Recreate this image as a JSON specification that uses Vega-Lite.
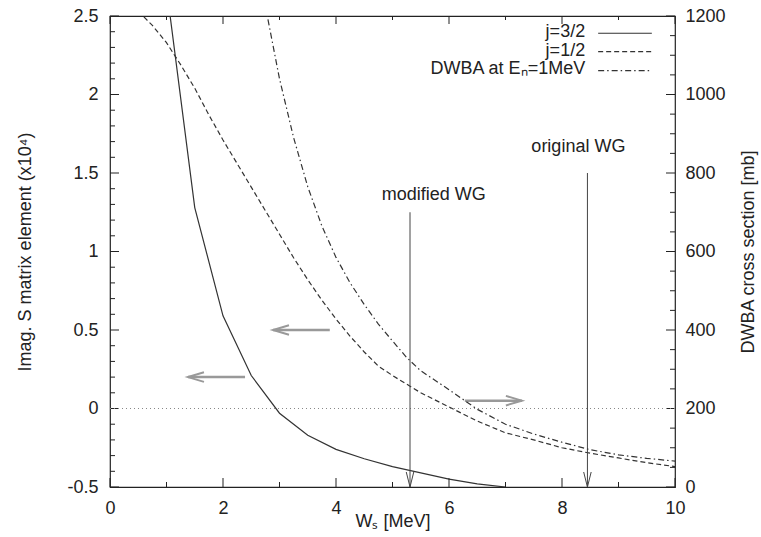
{
  "$schema": "https://vega.github.io/schema/vega-lite/v6.json",
  "width": 565,
  "height": 471,
  "autosize": "none",
  "padding": {"left": 110, "top": 16, "right": 86, "bottom": 50},
  "background": "white",
  "config": {
    "view": {"stroke": "#222", "strokeWidth": 1.2},
    "font": "Liberation Sans",
    "text": {"font": "Liberation Sans", "fontSize": 18, "color": "#222"},
    "tick": {"thickness": 1, "color": "#222", "opacity": 1},
    "axis": {
      "domain": false, "ticks": false, "grid": false,
      "labelFont": "Liberation Sans", "labelFontSize": 18, "labelColor": "#222",
      "labelOverlap": false, "labelFlush": false,
      "titleFont": "Liberation Sans", "titleFontSize": 18, "titleFontWeight": "normal", "titleColor": "#222"
    }
  },
  "datasets": {
    "j32": [
      {"W": 1.0, "S": 2.68}, {"W": 1.5, "S": 1.28}, {"W": 2.0, "S": 0.59}, {"W": 2.5, "S": 0.21},
      {"W": 3.0, "S": -0.03}, {"W": 3.5, "S": -0.17}, {"W": 4.0, "S": -0.26}, {"W": 4.5, "S": -0.32},
      {"W": 5.0, "S": -0.37}, {"W": 5.5, "S": -0.41}, {"W": 6.0, "S": -0.45}, {"W": 6.5, "S": -0.48},
      {"W": 7.0, "S": -0.5}
    ],
    "j12": [
      {"W": 0.5, "S": 2.53}, {"W": 0.75, "S": 2.44}, {"W": 1.0, "S": 2.33}, {"W": 1.25, "S": 2.19},
      {"W": 1.5, "S": 2.04}, {"W": 1.75, "S": 1.87}, {"W": 2.0, "S": 1.71}, {"W": 2.25, "S": 1.56},
      {"W": 2.5, "S": 1.41}, {"W": 2.75, "S": 1.26}, {"W": 3.0, "S": 1.11}, {"W": 3.25, "S": 0.96},
      {"W": 3.5, "S": 0.82}, {"W": 3.75, "S": 0.69}, {"W": 4.0, "S": 0.57}, {"W": 4.25, "S": 0.46},
      {"W": 4.5, "S": 0.36}, {"W": 4.75, "S": 0.27}, {"W": 5.0, "S": 0.21}, {"W": 5.5, "S": 0.1},
      {"W": 6.0, "S": 0.01}, {"W": 6.5, "S": -0.08}, {"W": 7.0, "S": -0.155}, {"W": 7.5, "S": -0.2},
      {"W": 8.0, "S": -0.25}, {"W": 8.5, "S": -0.285}, {"W": 9.0, "S": -0.315}, {"W": 9.5, "S": -0.345},
      {"W": 10.0, "S": -0.37}
    ],
    "dwba": [
      {"W": 2.75, "sigma": 1225}, {"W": 3.0, "sigma": 1040}, {"W": 3.25, "sigma": 890}, {"W": 3.5, "sigma": 765},
      {"W": 3.75, "sigma": 665}, {"W": 4.0, "sigma": 585}, {"W": 4.25, "sigma": 520}, {"W": 4.5, "sigma": 465},
      {"W": 4.75, "sigma": 415}, {"W": 5.0, "sigma": 372}, {"W": 5.25, "sigma": 330}, {"W": 5.5, "sigma": 296},
      {"W": 6.0, "sigma": 248}, {"W": 6.5, "sigma": 198}, {"W": 7.0, "sigma": 160}, {"W": 7.5, "sigma": 135},
      {"W": 8.0, "sigma": 114}, {"W": 8.5, "sigma": 95}, {"W": 9.0, "sigma": 82}, {"W": 9.5, "sigma": 73},
      {"W": 10.0, "sigma": 66}
    ],
    "harrows": [
      {"x1": 3.89, "x2": 2.885, "y": 0.5, "dir": "left"},
      {"x1": 2.39, "x2": 1.38, "y": 0.2, "dir": "left"},
      {"x1": 6.28, "x2": 7.29, "y": 0.05, "dir": "right"}
    ],
    "varrows": [
      {"x": 5.31, "y1": 1.25, "y2": -0.5},
      {"x": 8.45, "y1": 1.5, "y2": -0.5}
    ],
    "wglabels": [
      {"label": "modified WG", "x": 5.73, "y": 1.33},
      {"label": "original WG", "x": 8.29, "y": 1.634}
    ],
    "legend": [
      {"label": "j=3/2", "series": "j=3/2", "ty": 2.366, "ly": 2.39},
      {"label": "j=1/2", "series": "j=1/2", "ty": 2.247, "ly": 2.273},
      {"label": "DWBA at Eₙ=1MeV", "series": "DWBA", "ty": 2.13, "ly": 2.152}
    ],
    "xmajor": [{"v": 0}, {"v": 2}, {"v": 4}, {"v": 6}, {"v": 8}, {"v": 10}],
    "xminor": [{"v": 1}, {"v": 3}, {"v": 5}, {"v": 7}, {"v": 9}],
    "ymajor": [{"v": -0.5}, {"v": 0}, {"v": 0.5}, {"v": 1}, {"v": 1.5}, {"v": 2}, {"v": 2.5}],
    "yminor": [
      {"v": -0.4}, {"v": -0.3}, {"v": -0.2}, {"v": -0.1}, {"v": 0.1}, {"v": 0.2}, {"v": 0.3}, {"v": 0.4},
      {"v": 0.6}, {"v": 0.7}, {"v": 0.8}, {"v": 0.9}, {"v": 1.1}, {"v": 1.2}, {"v": 1.3}, {"v": 1.4},
      {"v": 1.6}, {"v": 1.7}, {"v": 1.8}, {"v": 1.9}, {"v": 2.1}, {"v": 2.2}, {"v": 2.3}, {"v": 2.4}
    ],
    "rminor": [
      {"v": 50}, {"v": 100}, {"v": 150}, {"v": 250}, {"v": 300}, {"v": 350}, {"v": 450}, {"v": 500}, {"v": 550},
      {"v": 650}, {"v": 700}, {"v": 750}, {"v": 850}, {"v": 900}, {"v": 950}, {"v": 1050}, {"v": 1100}, {"v": 1150}
    ]
  },
  "layer": [
    {
      "layer": [
        {
          "data": {"name": "j32"},
          "mark": {"type": "line", "color": "#333", "strokeWidth": 1.2, "clip": true},
          "encoding": {
            "x": {
              "field": "W", "type": "quantitative",
              "scale": {"domain": [0, 10], "nice": false, "zero": false},
              "axis": {
                "orient": "bottom",
                "values": [0, 2, 4, 6, 8, 10],
                "labelExpr": "'' + datum.value",
                "labelPadding": 12,
                "title": "Wₛ [MeV]",
                "titlePadding": -5
              }
            },
            "y": {
              "field": "S", "type": "quantitative",
              "scale": {"domain": [-0.5, 2.5], "nice": false, "zero": false},
              "axis": {
                "orient": "left",
                "values": [-0.5, 0, 0.5, 1, 1.5, 2, 2.5],
                "labelExpr": "'' + datum.value",
                "labelPadding": 12,
                "title": "Imag. S matrix element (x10⁴)",
                "titlePadding": 32
              }
            }
          }
        },
        {
          "data": {"name": "j12"},
          "mark": {"type": "line", "color": "#333", "strokeWidth": 1.2, "strokeDash": [5, 3], "clip": true},
          "encoding": {
            "x": {"field": "W", "type": "quantitative"},
            "y": {"field": "S", "type": "quantitative"}
          }
        },
        {
          "data": {"name": "xmajor"},
          "mark": {"type": "tick", "orient": "vertical", "size": 9, "yOffset": -4.5},
          "encoding": {"x": {"field": "v", "type": "quantitative"}, "y": {"datum": -0.5, "type": "quantitative"}}
        },
        {
          "data": {"name": "xmajor"},
          "mark": {"type": "tick", "orient": "vertical", "size": 8, "yOffset": 4},
          "encoding": {"x": {"field": "v", "type": "quantitative"}, "y": {"datum": 2.5, "type": "quantitative"}}
        },
        {
          "data": {"name": "xminor"},
          "mark": {"type": "tick", "orient": "vertical", "size": 5, "yOffset": -2.5},
          "encoding": {"x": {"field": "v", "type": "quantitative"}, "y": {"datum": -0.5, "type": "quantitative"}}
        },
        {
          "data": {"name": "xminor"},
          "mark": {"type": "tick", "orient": "vertical", "size": 4, "yOffset": 2},
          "encoding": {"x": {"field": "v", "type": "quantitative"}, "y": {"datum": 2.5, "type": "quantitative"}}
        },
        {
          "data": {"name": "ymajor"},
          "mark": {"type": "tick", "orient": "horizontal", "size": 9, "xOffset": 4.5},
          "encoding": {"y": {"field": "v", "type": "quantitative"}, "x": {"datum": 0, "type": "quantitative"}}
        },
        {
          "data": {"name": "ymajor"},
          "mark": {"type": "tick", "orient": "horizontal", "size": 9, "xOffset": -4.5},
          "encoding": {"y": {"field": "v", "type": "quantitative"}, "x": {"datum": 10, "type": "quantitative"}}
        },
        {
          "data": {"name": "yminor"},
          "mark": {"type": "tick", "orient": "horizontal", "size": 5, "xOffset": 2.5},
          "encoding": {"y": {"field": "v", "type": "quantitative"}, "x": {"datum": 0, "type": "quantitative"}}
        },
        {
          "data": {"values": [{"zero": 0}]},
          "mark": {"type": "rule", "color": "#888", "strokeWidth": 1, "strokeDash": [1, 3]},
          "encoding": {
            "y": {"field": "zero", "type": "quantitative"}
          }
        },
        {
          "data": {"name": "harrows"},
          "mark": {"type": "rule", "color": "#999", "strokeWidth": 2.5},
          "encoding": {
            "x": {"field": "x1", "type": "quantitative"},
            "x2": {"field": "x2"},
            "y": {"field": "y", "type": "quantitative"}
          }
        },
        {
          "data": {"name": "harrows"},
          "mark": {"type": "point", "filled": false, "color": "#999", "strokeWidth": 2, "size": 256, "opacity": 1},
          "encoding": {
            "x": {"field": "x2", "type": "quantitative"},
            "y": {"field": "y", "type": "quantitative"},
            "shape": {
              "field": "dir", "type": "nominal",
              "scale": {"domain": ["left", "right"], "range": ["M 2 -0.6 L 0 0 L 2 0.6", "M -2 -0.6 L 0 0 L -2 0.6"]},
              "legend": null
            }
          }
        },
        {
          "data": {"name": "varrows"},
          "mark": {"type": "rule", "color": "#444", "strokeWidth": 1},
          "encoding": {
            "x": {"field": "x", "type": "quantitative"},
            "y": {"field": "y1", "type": "quantitative"},
            "y2": {"field": "y2"}
          }
        },
        {
          "data": {"name": "varrows"},
          "mark": {"type": "point", "filled": false, "color": "#444", "strokeWidth": 1, "size": 225, "opacity": 1, "shape": "M -0.5 -2 L 0 0 L 0.5 -2"},
          "encoding": {
            "x": {"field": "x", "type": "quantitative"},
            "y": {"field": "y2", "type": "quantitative"}
          }
        },
        {
          "data": {"name": "wglabels"},
          "mark": {"type": "text", "align": "center", "baseline": "alphabetic", "fontSize": 18},
          "encoding": {
            "x": {"field": "x", "type": "quantitative"},
            "y": {"field": "y", "type": "quantitative"},
            "text": {"field": "label"}
          }
        },
        {
          "data": {"name": "legend"},
          "mark": {"type": "text", "align": "right", "baseline": "alphabetic", "fontSize": 18},
          "encoding": {
            "x": {"datum": 8.41, "type": "quantitative"},
            "y": {"field": "ty", "type": "quantitative"},
            "text": {"field": "label"}
          }
        },
        {
          "data": {"name": "legend"},
          "mark": {"type": "rule", "color": "#333", "strokeWidth": 1.2},
          "encoding": {
            "x": {"datum": 8.64, "type": "quantitative"},
            "x2": {"datum": 9.59},
            "y": {"field": "ly", "type": "quantitative"},
            "strokeDash": {
              "field": "series", "type": "nominal",
              "scale": {"domain": ["j=3/2", "j=1/2", "DWBA"], "range": [[1, 0], [5, 3], [6, 3, 1.5, 3]]},
              "legend": null
            }
          }
        }
      ]
    },
    {
      "layer": [
        {
          "data": {"name": "dwba"},
          "mark": {"type": "line", "color": "#333", "strokeWidth": 1.2, "strokeDash": [6, 3, 1.5, 3], "clip": true},
          "encoding": {
            "x": {"field": "W", "type": "quantitative", "scale": {"domain": [0, 10], "nice": false, "zero": false}, "axis": null},
            "y": {
              "field": "sigma", "type": "quantitative",
              "scale": {"domain": [0, 1200], "nice": false, "zero": false},
              "axis": {
                "orient": "right",
                "values": [0, 200, 400, 600, 800, 1000, 1200],
                "labelExpr": "'' + datum.value",
                "labelPadding": 10,
                "title": "DWBA cross section [mb]",
                "titleAngle": 270,
                "titlePadding": 32
              }
            }
          }
        },
        {
          "data": {"name": "rminor"},
          "mark": {"type": "tick", "orient": "horizontal", "size": 5, "xOffset": -2.5},
          "encoding": {"y": {"field": "v", "type": "quantitative"}, "x": {"datum": 10, "type": "quantitative"}}
        }
      ]
    }
  ],
  "resolve": {"scale": {"y": "independent"}, "axis": {"x": "independent", "y": "independent"}}
}
